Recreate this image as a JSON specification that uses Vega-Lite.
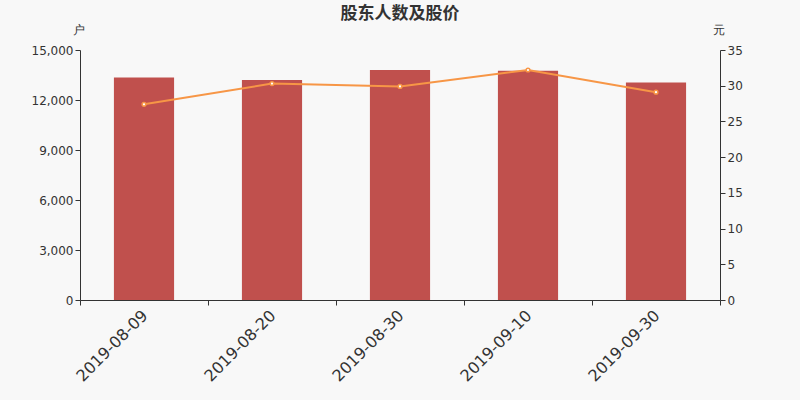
{
  "$schema": "https://vega.github.io/schema/vega-lite/v6.json",
  "autosize": "none",
  "width": 640,
  "height": 250,
  "padding": {"left": 80, "top": 50, "right": 80, "bottom": 100},
  "background": "#f8f8f8",
  "title": {
    "text": "股东人数及股价",
    "fontSize": 17,
    "fontWeight": "bold",
    "color": "#333333",
    "font": "Noto Sans CJK SC",
    "offset": 0
  },
  "data": {
    "values": [
      {"date": "2019-08-09", "holders": 13350, "price": 27.4},
      {"date": "2019-08-20", "holders": 13200, "price": 30.3},
      {"date": "2019-08-30", "holders": 13800, "price": 29.9},
      {"date": "2019-09-10", "holders": 13750, "price": 32.2},
      {"date": "2019-09-30", "holders": 13050, "price": 29.1}
    ]
  },
  "encoding": {
    "x": {
      "field": "date",
      "type": "nominal",
      "title": null,
      "scale": {"paddingInner": 0, "paddingOuter": 0},
      "axis": {
        "labelAngle": -45,
        "labelFontSize": 16,
        "labelColor": "#333333",
        "domainColor": "#333333",
        "tickColor": "#333333",
        "tickBand": "extent",
        "tickSize": 5,
        "labelPadding": 2,
        "labelOffset": -5
      }
    }
  },
  "layer": [
    {
      "mark": {"type": "bar", "color": "#c0504d", "width": {"band": 0.47}},
      "encoding": {
        "y": {
          "field": "holders",
          "type": "quantitative",
          "title": "户",
          "scale": {"domain": [0, 15000]},
          "axis": {
            "values": [0, 3000, 6000, 9000, 12000, 15000],
            "format": ",.0f",
            "grid": false,
            "labelFontSize": 12,
            "labelColor": "#333333",
            "domainColor": "#333333",
            "tickColor": "#333333",
            "titleAngle": 0,
            "titleX": -2,
            "titleY": -14,
            "titleAlign": "center",
            "titleBaseline": "bottom",
            "titleFontWeight": "normal",
            "titleFontSize": 12,
            "titleColor": "#333333"
          }
        }
      }
    },
    {
      "mark": {
        "type": "line",
        "color": "#f79646",
        "strokeWidth": 2,
        "point": {"filled": true, "fill": "#ffffff", "stroke": "#f79646", "strokeWidth": 1.5, "size": 14}
      },
      "encoding": {
        "y": {
          "field": "price",
          "type": "quantitative",
          "title": "元",
          "scale": {"domain": [0, 35]},
          "axis": {
            "orient": "right",
            "values": [0, 5, 10, 15, 20, 25, 30, 35],
            "grid": false,
            "labelFontSize": 12,
            "labelColor": "#333333",
            "domainColor": "#333333",
            "tickColor": "#333333",
            "titleAngle": 0,
            "titleX": -2,
            "titleY": -14,
            "titleAlign": "center",
            "titleBaseline": "bottom",
            "titleFontWeight": "normal",
            "titleFontSize": 12,
            "titleColor": "#333333"
          }
        }
      }
    }
  ],
  "resolve": {"scale": {"y": "independent"}},
  "config": {
    "font": "DejaVu Sans",
    "view": {"stroke": null}
  }
}
